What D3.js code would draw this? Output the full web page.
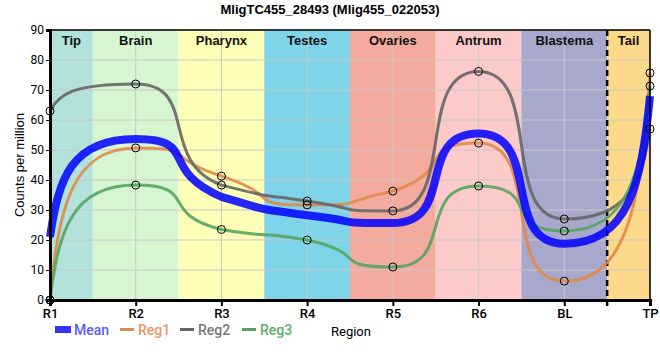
<!DOCTYPE html>
<html>
<head>
<meta charset="utf-8">
<script src="https://cdn.jsdelivr.net/npm/d3@7"></script>
<style>
  body { margin: 0; background: #fff; }
  svg { display: block; }
</style>
</head>
<body>
<svg id="chart" width="660" height="360"></svg>
<script>
var title = "MligTC455_28493 (Mlig455_022053)";
var positions = ["R1", "R2", "R3", "R4", "R5", "R6", "BL", "TP"];
var regions = ["Tip", "Brain", "Pharynx", "Testes", "Ovaries", "Antrum", "Blastema", "Tail"];
var regionStart = [0, 0.5, 1.5, 2.5, 3.5, 4.5, 5.5, 6.5];
var regionEnd = [0.5, 1.5, 2.5, 3.5, 4.5, 5.5, 6.5, 7];
var regionColors = ["#b3e2dd", "#d7f5d0", "#feffb6", "#7fd4ea", "#f4aa9c", "#fdcaca", "#a8a8cc", "#fdd98b"];
var reg1 = [0, 50.7, 41.3, 31.7, 36.3, 52.3, 6.3, 75.7];
var reg2 = [63, 72, 38.3, 33, 29.7, 76.2, 27, 57];
var reg3 = [0, 38.3, 23.5, 20, 11, 38, 23, 71.3];
var yTicks = [0, 10, 20, 30, 40, 50, 60, 70, 80, 90];

var mean = reg1.map(function(v, i) { return (v + reg2[i] + reg3[i]) / 3; });

// smooth curve: monotone tangents, long handles, steep ends
function SoftCurve(context) { this._context = context; }
SoftCurve.prototype = {
    areaStart: function() {}, areaEnd: function() {},
    lineStart: function() { this._pts = []; },
    point: function(x, y) { this._pts.push([+x, +y]); },
    lineEnd: function() {
        var p = this._pts, n = p.length, c = this._context, i;
        if (!n) return;
        c.moveTo(p[0][0], p[0][1]);
        var s = [], m = [];
        for (i = 0; i < n - 1; i++) s.push((p[i + 1][1] - p[i][1]) / (p[i + 1][0] - p[i][0]));
        for (i = 1; i < n - 1; i++) {
            var a = s[i - 1], b = s[i];
            m[i] = (a * b <= 0) ? 0 : Math.sign(a) * 2 * Math.min(Math.abs(a), Math.abs(b), Math.abs(a + b) / 4);
        }
        function clamp(v, a, b) { return Math.max(Math.min(a, b), Math.min(Math.max(a, b), v)); }
        var k = 0.75;
        for (i = 0; i < n - 1; i++) {
            var x0 = p[i][0], y0 = p[i][1], x1 = p[i + 1][0], y1 = p[i + 1][1];
            var dx = x1 - x0, L = k * dx, c1x, c1y, c2x, c2y;
            if (i === 0) { c1x = x0 + 0.1 * dx; c1y = y0 + 0.6 * (y1 - y0); }
            else { c1x = x0 + L; c1y = clamp(y0 + m[i] * L, y0, y1); }
            if (i + 1 === n - 1) { c2x = x1 - 0.1 * dx; c2y = y1 - 0.6 * (y1 - y0); }
            else { c2x = x1 - L; c2y = clamp(y1 - m[i + 1] * L, y0, y1); }
            c.bezierCurveTo(c1x, c1y, c2x, c2y, x1, y1);
        }
    }
};
function softCurve(context) { return new SoftCurve(context); }

(function() {
    var left = 50, right = 650, top = 30, bottom = 300;
    var svg = d3.select("#chart");

    var x = d3.scaleLinear().domain([0, 7]).range([left, right]);
    var y = d3.scaleLinear().domain([0, 90]).range([bottom, top]);

    // region bands
    svg.selectAll("rect.band")
        .data(regions)
        .enter()
        .append("rect")
        .attr("class", "band")
        .attr("x", function(d, i) { return x(regionStart[i]); })
        .attr("width", function(d, i) { return x(regionEnd[i]) - x(regionStart[i]); })
        .attr("y", top)
        .attr("height", bottom - top)
        .style("fill", function(d, i) { return regionColors[i]; });

    // grid
    svg.selectAll("line.hgrid")
        .data(yTicks)
        .enter()
        .append("line")
        .attr("x1", left).attr("x2", right)
        .attr("y1", function(d) { return y(d); })
        .attr("y2", function(d) { return y(d); })
        .style("stroke", "#c8c8c8")
        .style("stroke-width", 1);

    svg.selectAll("line.vgrid")
        .data(positions)
        .enter()
        .append("line")
        .attr("x1", function(d, i) { return x(i); })
        .attr("x2", function(d, i) { return x(i); })
        .attr("y1", top).attr("y2", bottom)
        .style("stroke", "#c8c8c8")
        .style("stroke-width", 1);

    // region labels
    svg.selectAll("text.band")
        .data(regions)
        .enter()
        .append("text")
        .attr("x", function(d, i) { return (x(regionStart[i]) + x(regionEnd[i])) / 2; })
        .attr("y", top + 15)
        .attr("text-anchor", "middle")
        .style("font-family", "Liberation Sans, Arial, sans-serif")
        .style("font-weight", "bold")
        .style("font-size", "13px")
        .style("fill", "#111")
        .text(function(d) { return d; });

    // dashed divider before tail
    svg.append("line")
        .attr("x1", x(6.5)).attr("x2", x(6.5))
        .attr("y1", top).attr("y2", bottom + 6)
        .style("stroke", "#000")
        .style("stroke-width", 2.5)
        .style("stroke-dasharray", "6,4");

    var line = d3.line()
        .x(function(d, i) { return x(i); })
        .y(function(d) { return y(d); })
        .curve(softCurve);

    var series = [
        { name: "Reg1", values: reg1, color: "#e08a4a", text: "#e8975f" },
        { name: "Reg2", values: reg2, color: "#666666", text: "#777777" },
        { name: "Reg3", values: reg3, color: "#55a560", text: "#5fae68" }
    ];

    series.forEach(function(s) {
        svg.append("path")
            .datum(s.values)
            .attr("d", line)
            .style("fill", "none")
            .style("stroke", s.color)
            .style("stroke-width", 3)
            .style("stroke-opacity", 0.9);
    });

    svg.append("path")
        .datum(mean)
        .attr("d", line)
        .style("fill", "none")
        .style("stroke", "#0000ff")
        .style("stroke-width", 8)
        .style("stroke-opacity", 0.85);

    series.forEach(function(s) {
        svg.selectAll(null)
            .data(s.values)
            .enter()
            .append("circle")
            .attr("cx", function(d, i) { return x(i); })
            .attr("cy", function(d) { return y(d); })
            .attr("r", 4)
            .style("fill", "none")
            .style("stroke", "#000")
            .style("stroke-width", 1);
    });

    // frame
    svg.append("line").attr("x1", left).attr("x2", right).attr("y1", top).attr("y2", top)
        .style("stroke", "#000").style("stroke-width", 1.5);
    svg.append("line").attr("x1", right).attr("x2", right).attr("y1", top).attr("y2", bottom)
        .style("stroke", "#000").style("stroke-width", 1.5);

    // axes
    var xAxis = d3.axisBottom(x)
        .tickValues(d3.range(positions.length))
        .tickFormat(function(d) { return positions[d]; })
        .tickSize(6)
        .tickPadding(3);
    var gx = svg.append("g").attr("transform", "translate(0," + bottom + ")").call(xAxis);
    gx.select(".domain").style("stroke", "#000").style("stroke-width", 3);
    gx.selectAll(".tick line").style("stroke", "#000").style("stroke-width", 2);
    gx.selectAll("text")
        .style("font-family", "Roboto, sans-serif")
        .style("font-size", "13px")
        .style("font-weight", "500")
        .style("fill", "#000");

    var yAxis = d3.axisLeft(y)
        .tickValues(yTicks)
        .tickSize(4)
        .tickPadding(2);
    var gy = svg.append("g").attr("transform", "translate(" + left + ",0)").call(yAxis);
    gy.select(".domain").style("stroke", "#000").style("stroke-width", 3);
    gy.selectAll(".tick line").style("stroke", "#000").style("stroke-width", 1);
    gy.selectAll("text")
        .style("font-family", "Roboto, sans-serif")
        .style("font-size", "12px")
        .style("fill", "#000");

    // titles
    svg.append("text")
        .attr("x", 330).attr("y", 14)
        .attr("text-anchor", "middle")
        .style("font-family", "Liberation Sans, Arial, sans-serif")
        .style("font-weight", "bold")
        .style("font-size", "13px")
        .text(title);

    svg.append("text")
        .attr("transform", "translate(24," + ((top + bottom) / 2) + ") rotate(-90)")
        .attr("text-anchor", "middle")
        .style("font-family", "Liberation Sans, Arial, sans-serif")
        .style("font-size", "13px")
        .text("Counts per million");

    svg.append("text")
        .attr("x", 331).attr("y", 336)
        .style("font-family", "Roboto, sans-serif")
        .style("font-size", "13px")
        .text("Region");

    // legend
    var lg = svg.append("g");
    lg.append("rect").attr("x", 55).attr("y", 326).attr("width", 16).attr("height", 7)
        .style("fill", "#3333ff");
    lg.append("text").attr("x", 74).attr("y", 335)
        .style("font-family", "Roboto, sans-serif").style("font-size", "14px").style("font-weight", "500")
        .style("fill", "#5a5aff").text("Mean");

    var legendX = [120, 180, 242];
    series.forEach(function(s, i) {
        lg.append("line")
            .attr("x1", legendX[i]).attr("x2", legendX[i] + 14)
            .attr("y1", 329.5).attr("y2", 329.5)
            .style("stroke", s.color).style("stroke-width", 3);
        lg.append("text").attr("x", legendX[i] + 18).attr("y", 335)
            .style("font-family", "Roboto, sans-serif").style("font-size", "14px").style("font-weight", "500")
            .style("fill", s.text).text(s.name);
    });
})();
</script>
</body>
</html>
